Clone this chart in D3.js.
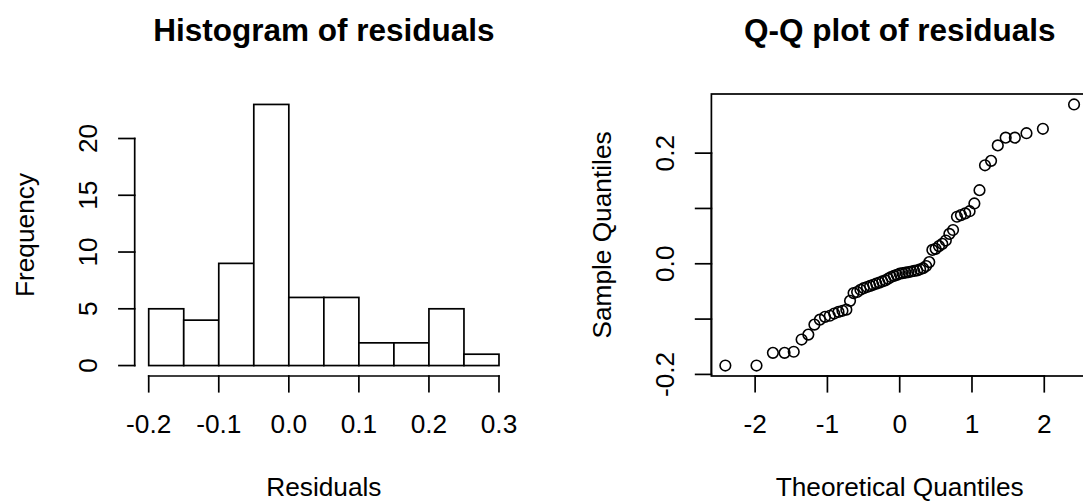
<!DOCTYPE html>
<html>
<head>
<meta charset="utf-8">
<script src="https://cdn.jsdelivr.net/npm/d3@7"></script>
<style>
  body { margin: 0; background: #fff; }
  text { font-family: "Liberation Sans", Arial, Helvetica, sans-serif; fill: #000; }
</style>
</head>
<body>
<svg id="fig" width="1083" height="502"></svg>
<script>
// Histogram of residuals: bin edges and counts
const histBreaks = [-0.2, -0.15, -0.1, -0.05, 0, 0.05, 0.1, 0.15, 0.2, 0.25, 0.3];
const histCounts = [5, 4, 9, 23, 6, 6, 2, 2, 5, 1];
const histXTicks = [-0.2, -0.1, 0, 0.1, 0.2, 0.3];
const histYTicks = [0, 5, 10, 15, 20];

// Normal Q-Q plot: theoretical normal quantiles and sorted residuals (n = 63)
const theoretical = [
  -2.412, -1.981, -1.754, -1.593, -1.466, -1.357, -1.264, -1.180, -1.104, -1.033,
  -0.967, -0.906, -0.847, -0.792, -0.738, -0.687, -0.638, -0.589, -0.543, -0.497,
  -0.452, -0.409, -0.366, -0.324, -0.282, -0.241, -0.200, -0.160, -0.120, -0.080,
  -0.040, 0.000, 0.040, 0.080, 0.120, 0.160, 0.200, 0.241, 0.282, 0.324,
  0.366, 0.409, 0.452, 0.497, 0.543, 0.589, 0.638, 0.687, 0.738, 0.792,
  0.847, 0.906, 0.967, 1.033, 1.104, 1.180, 1.264, 1.357, 1.466, 1.593,
  1.754, 1.981, 2.412
];
const sample = [
  -0.184, -0.184, -0.161, -0.161, -0.159, -0.137, -0.128, -0.110, -0.101, -0.096,
  -0.094, -0.090, -0.087, -0.085, -0.083, -0.067, -0.053, -0.051, -0.047, -0.044,
  -0.042, -0.040, -0.038, -0.036, -0.034, -0.032, -0.030, -0.027, -0.024, -0.022,
  -0.020, -0.018, -0.017, -0.016, -0.015, -0.014, -0.013, -0.012, -0.010, -0.008,
  -0.004, 0.003, 0.025, 0.027, 0.032, 0.036, 0.042, 0.054, 0.061, 0.085,
  0.088, 0.091, 0.095, 0.109, 0.133, 0.178, 0.186, 0.214, 0.228, 0.228,
  0.236, 0.244, 0.288
];
const qqXTicks = [-2, -1, 0, 1, 2];
const qqYTicks = [-0.2, -0.1, 0, 0.1, 0.2];
const qqYLabelled = [-0.2, 0, 0.2];

// Base graphics metrics (margin lines, mgp = c(3, 1, 0))
const LINE = 31.5;            // one margin line
const FONT = 26.25;           // tick / axis-title font size
const TITLE_FONT = 31.5;      // bold main title
const TICK = 0.5 * LINE;      // tick length
const LWD = 1.7;
// text baselines measured from the axis line:
// bottom side sits on the outer edge of its line, left side (rotated) on the inner edge
const xLabelOff = 1.8 * LINE, yLabelOff = 1.2 * LINE;
const xTitleOff = 3.8 * LINE, yTitleOff = 3.2 * LINE;
const plotTop = 94, plotBottom = 376;

const svg = d3.select("#fig");
svg.append("rect").attr("width", 1083).attr("height", 502).attr("fill", "#fff");

function pad(ext) {
  const r = ext[1] - ext[0];
  return [ext[0] - 0.04 * r, ext[1] + 0.04 * r];
}

function segment(g, x1, y1, x2, y2) {
  g.append("line").attr("x1", x1).attr("y1", y1).attr("x2", x2).attr("y2", y2)
    .attr("stroke", "#000").attr("stroke-width", LWD).attr("stroke-linecap", "square");
}

function bottomAxis(g, x, ticks, fmt, yPos) {
  segment(g, x(ticks[0]), yPos, x(ticks[ticks.length - 1]), yPos);
  ticks.forEach(t => {
    segment(g, x(t), yPos, x(t), yPos + TICK);
    g.append("text").attr("x", x(t)).attr("y", yPos + xLabelOff)
      .attr("text-anchor", "middle").attr("font-size", FONT).text(fmt(t));
  });
}

function leftAxis(g, y, ticks, labelled, fmt, xPos) {
  segment(g, xPos, y(ticks[0]), xPos, y(ticks[ticks.length - 1]));
  ticks.forEach(t => {
    segment(g, xPos - TICK, y(t), xPos, y(t));
    if (labelled.includes(t)) {
      g.append("text")
        .attr("transform", `translate(${xPos - yLabelOff},${y(t)}) rotate(-90)`)
        .attr("text-anchor", "middle").attr("font-size", FONT).text(fmt(t));
    }
  });
}

function titles(g, left, right, main, xlab, ylab) {
  const cx = (left + right) / 2, cy = (plotTop + plotBottom) / 2;
  g.append("text").attr("x", cx).attr("y", 41).attr("text-anchor", "middle")
    .attr("font-size", TITLE_FONT).attr("font-weight", "bold").text(main);
  g.append("text").attr("x", cx).attr("y", plotBottom + xTitleOff).attr("text-anchor", "middle")
    .attr("font-size", FONT).text(xlab);
  g.append("text")
    .attr("transform", `translate(${left - yTitleOff},${cy}) rotate(-90)`)
    .attr("text-anchor", "middle").attr("font-size", FONT).text(ylab);
}

// ---- Histogram panel ----
{
  const left = 134.7, right = 513.0;
  const g = svg.append("g");
  const x = d3.scaleLinear().domain(pad(d3.extent(histBreaks))).range([left, right]);
  const y = d3.scaleLinear().domain(pad([0, d3.max(histCounts)])).range([plotBottom, plotTop]);
  const bins = histCounts.map((c, i) => ({ x0: histBreaks[i], x1: histBreaks[i + 1], n: c }));
  g.selectAll("rect.bar").data(bins).join("rect").attr("class", "bar")
    .attr("x", d => x(d.x0)).attr("width", d => x(d.x1) - x(d.x0))
    .attr("y", d => y(d.n)).attr("height", d => y(0) - y(d.n))
    .attr("fill", "#fff").attr("stroke", "#000").attr("stroke-width", LWD);
  bottomAxis(g, x, histXTicks, d => d.toFixed(1), plotBottom);
  leftAxis(g, y, histYTicks, histYTicks, d => String(d), left);
  titles(g, left, right, "Histogram of residuals", "Residuals", "Frequency");
}

// ---- Q-Q panel ----
{
  const left = 711.4, right = 1088.0;
  const g = svg.append("g");
  const x = d3.scaleLinear().domain(pad(d3.extent(theoretical))).range([left, right]);
  const y = d3.scaleLinear().domain(pad(d3.extent(sample))).range([plotBottom, plotTop]);
  const pts = theoretical.map((t, i) => ({ t, s: sample[i] }));
  g.selectAll("circle").data(pts).join("circle")
    .attr("cx", d => x(d.t)).attr("cy", d => y(d.s)).attr("r", 5.3)
    .attr("fill", "none").attr("stroke", "#000").attr("stroke-width", 1.6);
  g.append("rect").attr("x", left).attr("y", plotTop)
    .attr("width", right - left).attr("height", plotBottom - plotTop)
    .attr("fill", "none").attr("stroke", "#000").attr("stroke-width", LWD);
  bottomAxis(g, x, qqXTicks, d => d.toFixed(0), plotBottom);
  leftAxis(g, y, qqYTicks, qqYLabelled, d => d.toFixed(1), left);
  titles(g, left, right, "Q-Q plot of residuals", "Theoretical Quantiles", "Sample Quantiles");
}
</script>
</body>
</html>
